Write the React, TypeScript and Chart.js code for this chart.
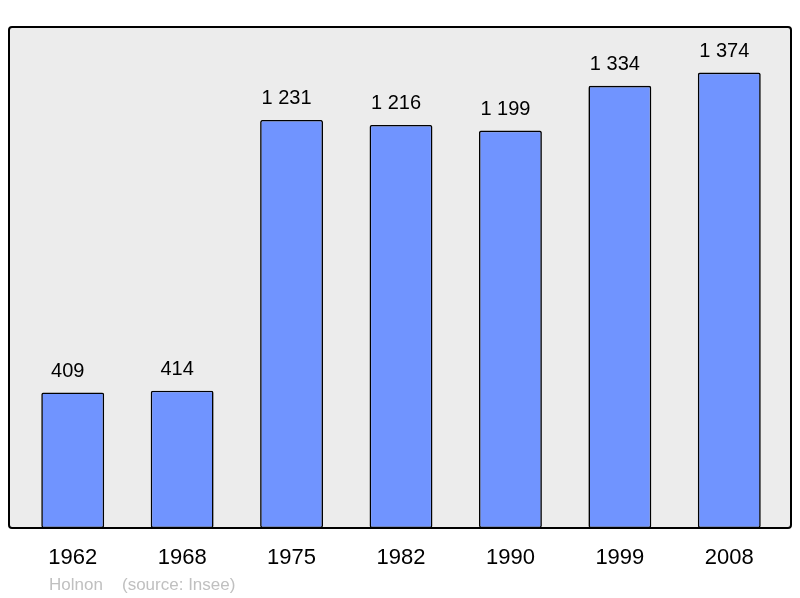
import React, { useEffect, useRef } from "react";
import { Chart, registerables } from "chart.js";

Chart.register(...registerables);

const years: string[] = ["1962", "1968", "1975", "1982", "1990", "1999", "2008"];
const population: number[] = [409, 414, 1231, 1216, 1199, 1334, 1374];
const townName = "Holnon";
const sourceText = "(source: Insee)";

const FONT = '"Liberation Sans", Arial, sans-serif';

function fmt(n: number): string {
  return String(n).replace(/\B(?=(\d{3})+(?!\d))/g, " ");
}

function roundRect(ctx: CanvasRenderingContext2D, x: number, y: number, w: number, h: number, r: number) {
  ctx.beginPath();
  ctx.moveTo(x + r, y);
  ctx.lineTo(x + w - r, y);
  ctx.arcTo(x + w, y, x + w, y + r, r);
  ctx.lineTo(x + w, y + h - r);
  ctx.arcTo(x + w, y + h, x + w - r, y + h, r);
  ctx.lineTo(x + r, y + h);
  ctx.arcTo(x, y + h, x, y + h - r, r);
  ctx.lineTo(x, y + r);
  ctx.arcTo(x, y, x + r, y, r);
  ctx.closePath();
}

const framePlugin = {
  id: "frame",
  beforeDatasetsDraw(chart: any) {
    const { ctx, chartArea } = chart;
    const x0 = 9, x1 = 791;
    const y0 = chartArea.top, y1 = chartArea.bottom;
    ctx.save();
    roundRect(ctx, x0, y0, x1 - x0, y1 - y0, 3);
    ctx.fillStyle = "#ececec";
    ctx.fill();
    ctx.restore();
  },
  afterDatasetsDraw(chart: any) {
    const { ctx, chartArea } = chart;
    const x0 = 9, x1 = 791;
    const y0 = chartArea.top, y1 = chartArea.bottom;
    ctx.save();
    roundRect(ctx, x0, y0, x1 - x0, y1 - y0, 3);
    ctx.lineWidth = 2;
    ctx.strokeStyle = "#000";
    ctx.stroke();

    const meta = chart.getDatasetMeta(0);
    ctx.fillStyle = "#000";
    ctx.font = `20px ${FONT}`;
    ctx.textAlign = "center";
    ctx.textBaseline = "middle";
    meta.data.forEach((bar: any, i: number) => {
      ctx.fillText(fmt(population[i]), bar.x - 5, bar.y - 21);
    });

    ctx.fillStyle = "#c0c0c0";
    ctx.font = `17px ${FONT}`;
    ctx.textAlign = "left";
    ctx.textBaseline = "alphabetic";
    ctx.fillText(townName, 49, 590);
    ctx.fillText(sourceText, 122, 590);
    ctx.restore();
  },
};

export default function App() {
  const ref = useRef<HTMLCanvasElement | null>(null);
  useEffect(() => {
    if (!ref.current) return;
    const yMax = Math.max(...population) * 1.1;
    const chart = new Chart(ref.current, {
      type: "bar",
      data: {
        labels: years,
        datasets: [
          {
            data: population,
            backgroundColor: "#7094ff",
            borderColor: "#000",
            borderWidth: 1.6,
            borderRadius: 2,
            borderSkipped: false,
            categoryPercentage: 1,
            barPercentage: 0.575,
          },
        ],
      },
      options: {
        responsive: false,
        animation: false,
        layout: { padding: { left: 18, right: 16, top: 27, bottom: 0 } },
        plugins: { legend: { display: false }, tooltip: { enabled: false } },
        scales: {
          x: {
            offset: true,
            grid: { display: false, drawTicks: false },
            border: { display: false },
            ticks: { color: "#000", font: { size: 22, family: FONT }, padding: 17 },
            afterFit: (scale: any) => {
              scale.height = 70;
            },
          },
          y: {
            display: false,
            min: 0,
            max: yMax,
          },
        },
      },
      plugins: [framePlugin],
    });
    return () => chart.destroy();
  }, []);
  return (
    <div style={{ position: "absolute", left: 0, top: 0, width: 800, height: 598, background: "#fff" }}>
      <canvas ref={ref} width={800} height={598} />
    </div>
  );
}
